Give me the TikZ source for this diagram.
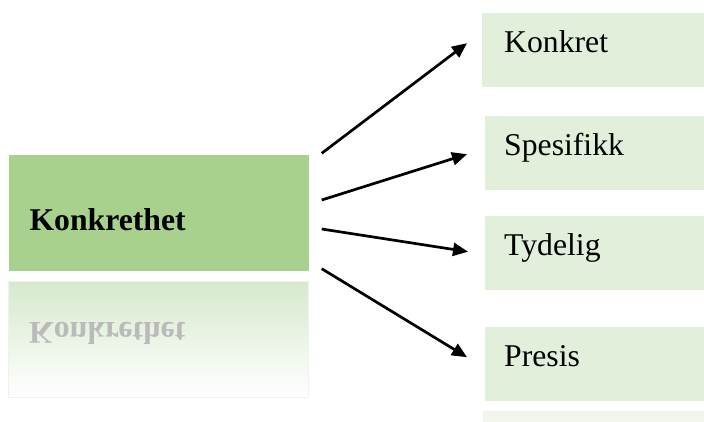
\documentclass[tikz,border=0pt]{standalone}
\usepackage{fontspec}
\setmainfont{Liberation Serif}
\usetikzlibrary{arrows.meta,calc,positioning}
\definecolor{maingreen}{HTML}{A9D18E}
\definecolor{itemgreen}{HTML}{E2EFDA}
\definecolor{fadegreen}{HTML}{D6E9CC}
\definecolor{fadeitem}{HTML}{F0F6EC}

\begin{document}
\begin{tikzpicture}[x=1pt,y=-1pt,
    mainbox/.style={fill=maingreen,minimum width=300pt,minimum height=116pt,inner xsep=21pt,text width=258pt,align=left,
        text height=35pt,text depth=0pt,font=\fontsize{31.7}{36}\selectfont\bfseries},
    itembox/.style={fill=itemgreen,anchor=north west,minimum width=219pt,minimum height=74pt,inner xsep=19pt,text width=181pt,
        align=left,text height=14pt,text depth=10pt,font=\fontsize{31.7}{36}\selectfont},
    mirrorbox/.style={top color=fadegreen,bottom color=white,draw=black!6,line width=1pt},
    arr/.style={line width=2.7pt,-{Triangle[length=15pt,width=13pt]}}]
            \useasboundingbox (0,0) rectangle (704,421);
            \clip (0,0) rectangle (704,421);
            \node[mainbox] (main) at (158.5,212.5) {Konkrethet};
            \node[mirrorbox,minimum width=300pt,minimum height=116pt] (mainmirror) at (158.5,339) {};
            \node[anchor=base west,inner sep=0pt,text=black!27,font=\fontsize{31.7}{36}\selectfont\bfseries] (mirrortext) at (29,322)
                {\scalebox{1}[-1]{Konkrethet}};
            \node[itembox,minimum width=222pt,inner xsep=22pt,text width=178pt] (konkret) at (482,13) {Konkret};
            \node[itembox] (spesifikk) at (485,116) {Spesifikk};
            \node[itembox] (tydelig) at (485,216) {Tydelig};
            \node[itembox] (presis) at (485,327) {Presis};
            \node[mirrorbox,top color=fadeitem,anchor=north west,minimum width=222pt,minimum height=74pt] (presismirror) at (483,411) {};
            \coordinate (s1) at ($(main.north east)+(13,-1)$);
            \coordinate (s2) at ($(main.east)+(13,-12.5)$);
            \coordinate (s3) at ($(main.east)+(13,16.5)$);
            \coordinate (s4) at ($(main.south east)+(13,-2)$);
            \coordinate (t1) at ($(konkret.west)+(-15,-7)$);
            \coordinate (t2) at ($(spesifikk.west)+(-18,1)$);
            \coordinate (t3) at ($(tydelig.west)+(-17,-1.5)$);
            \coordinate (t4) at ($(presis.west)+(-18,-7)$);
            \draw[arr] (s1) -- (t1);
            \draw[arr] (s2) -- (t2);
            \draw[arr] (s3) -- (t3);
            \draw[arr] (s4) -- (t4);
        \end{tikzpicture}
\end{document}
